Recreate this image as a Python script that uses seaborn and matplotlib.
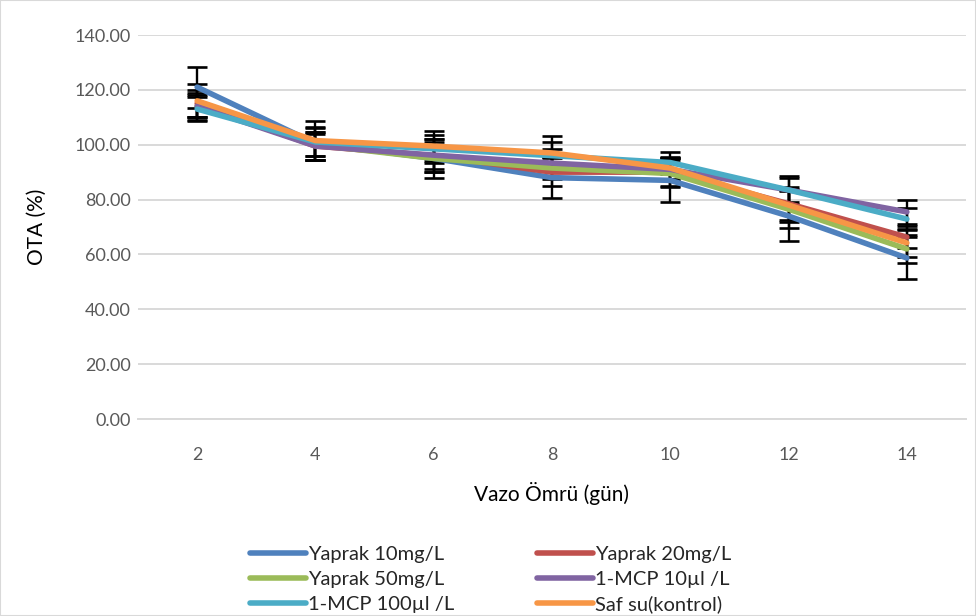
import matplotlib
matplotlib.use("Agg")
import matplotlib.pyplot as plt
import seaborn as sns
import pandas as pd
from matplotlib.patches import Rectangle

# Vase life days and OTA (%) per treatment
days = [2, 4, 6, 8, 10, 12, 14]
series_names = ["Yaprak 10mg/L", "Yaprak 20mg/L", "Yaprak 50mg/L",
                "1-MCP 10µl /L", "1-MCP 100µl /L", "Saf su(kontrol)"]

yaprak_10 = [121.0, 100.5, 95.0, 88.0, 87.0, 74.0, 58.7]
yaprak_20 = [115.0, 99.5, 96.0, 90.0, 90.0, 78.5, 66.3]
yaprak_50 = [114.0, 100.0, 95.0, 91.5, 89.5, 76.5, 62.0]
mcp_10 = [114.0, 99.5, 96.2, 93.3, 91.0, 83.5, 75.5]
mcp_100 = [113.0, 101.0, 98.5, 96.0, 93.5, 83.5, 72.9]
saf_su = [116.0, 101.5, 99.5, 97.0, 91.5, 78.0, 64.2]

# Standard errors per treatment
err_yaprak_10 = [7.5, 6.0, 7.0, 7.5, 8.0, 9.0, 7.5]
err_yaprak_20 = [5.0, 5.0, 5.0, 5.0, 5.0, 6.0, 4.0]
err_yaprak_50 = [4.0, 4.0, 5.0, 4.0, 5.0, 7.0, 5.0]
err_mcp_10 = [5.0, 5.0, 6.0, 5.0, 4.0, 4.5, 4.5]
err_mcp_100 = [4.5, 5.0, 5.0, 5.0, 4.0, 5.0, 4.0]
err_saf_su = [6.0, 7.0, 5.5, 6.0, 4.0, 6.0, 5.0]

values = [yaprak_10, yaprak_20, yaprak_50, mcp_10, mcp_100, saf_su]
errors = [err_yaprak_10, err_yaprak_20, err_yaprak_50, err_mcp_10, err_mcp_100, err_saf_su]
colors = ["#4F81BD", "#C0504D", "#9BBB59", "#8064A2", "#4BACC6", "#F79646"]

y_ticks = [0, 20, 40, 60, 80, 100, 120, 140]

rows = []
for name, vals, errs in zip(series_names, values, errors):
    for d, v, e in zip(days, vals, errs):
        rows.append({"Gün": d, "OTA": v, "err": e, "Grup": name})
df = pd.DataFrame(rows)

sns.set_theme(style="white")
plt.rcParams["font.family"] = ["Lato", "DejaVu Sans"]

fig = plt.figure(figsize=(9.76, 6.16), dpi=100)
ax = fig.add_axes([138 / 976, 1 - 419 / 616, 828 / 976, 384 / 616])

# error bars behind the lines
for name in series_names:
    sub = df[df["Grup"] == name]
    ax.errorbar(sub["Gün"], sub["OTA"], yerr=sub["err"], fmt="none",
                ecolor="black", elinewidth=1.7, capsize=7, capthick=1.9, zorder=2)

sns.lineplot(data=df, x="Gün", y="OTA", hue="Grup", hue_order=series_names,
             palette=colors, linewidth=4.0, errorbar=None, ax=ax, zorder=3,
             solid_capstyle="round", solid_joinstyle="round")

ax.set_xlim(1, 15)
ax.set_ylim(0, 140)
ax.set_xticks(days)
ax.set_xticklabels([str(d) for d in days])
ax.set_yticks(y_ticks)
ax.set_yticklabels([f"{t:.2f}" for t in y_ticks])
ax.tick_params(axis="both", length=0, labelsize=13, colors="#595959")
ax.tick_params(axis="y", pad=5)
ax.tick_params(axis="x", pad=20)
ax.yaxis.grid(True, color="#d9d9d9", linewidth=1.4)
ax.set_axisbelow(True)
for side in ["left", "right", "top"]:
    ax.spines[side].set_visible(False)
ax.spines["bottom"].set_color("#d9d9d9")
ax.spines["bottom"].set_linewidth(1.4)

ax.set_xlabel("Vazo Ömrü (gün)", fontsize=15, color="black", labelpad=14)
ax.set_ylabel("OTA (%)", fontsize=15, color="black", labelpad=20)

# legend filled row by row in two columns
handles, labels = ax.get_legend_handles_labels()
ax.legend_.remove()
order = [0, 2, 4, 1, 3, 5]
leg = fig.legend([handles[i] for i in order], [labels[i] for i in order],
                 loc="upper left", bbox_to_anchor=(240 / 976, 1 - 536 / 616),
                 ncol=2, frameon=False, fontsize=14.5, handlelength=2.8,
                 handletextpad=0.08, columnspacing=4.1, labelspacing=0.38,
                 borderpad=0)
for line in leg.get_lines():
    line.set_linewidth(4.0)
    line.set_solid_capstyle("round")

fig.patches.append(Rectangle((0, 0), 1, 1, transform=fig.transFigure,
                             fill=False, edgecolor="#d9d9d9", linewidth=1.5))

fig.savefig("out.png", dpi=100, facecolor="white")
